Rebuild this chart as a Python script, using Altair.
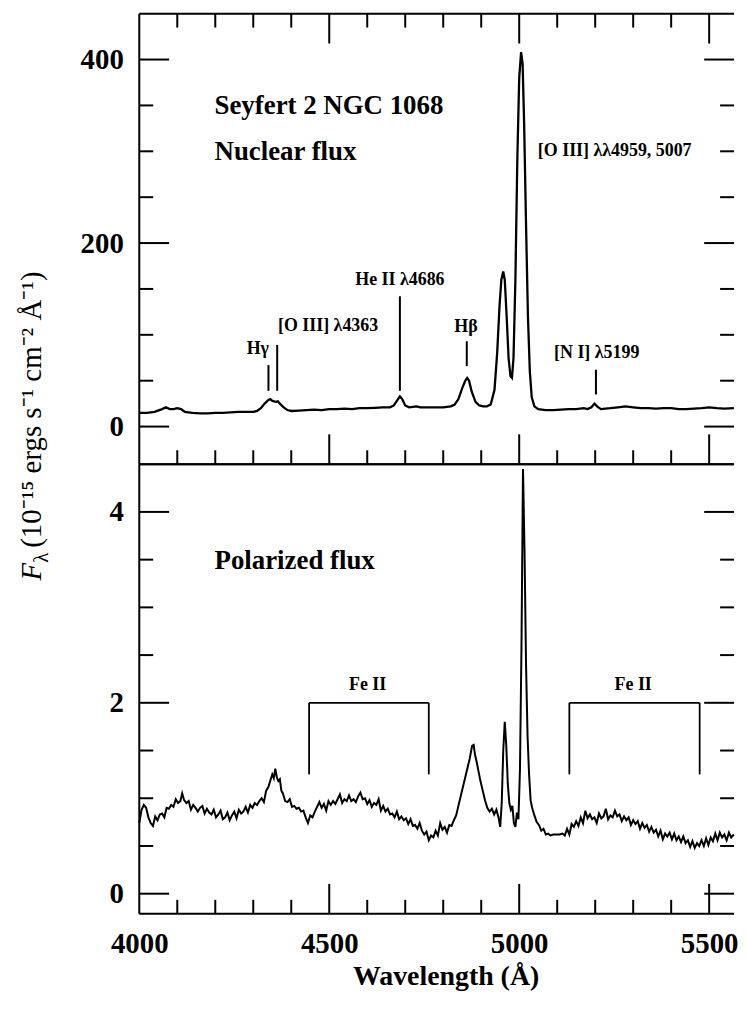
import altair as alt
import pandas as pd

# ---------------- data ----------------
nuc_wl = [4000, 4020, 4040, 4060, 4070, 4080, 4090, 4100, 4110, 4120, 4140, 4160, 4180, 4200, 4220, 4240,
          4260, 4280, 4300, 4310, 4320, 4330, 4340, 4345, 4350, 4360, 4365, 4370, 4380, 4390, 4400, 4420,
          4440, 4460, 4480, 4500, 4520, 4540, 4560, 4580, 4600, 4620, 4640, 4660, 4670, 4678, 4686, 4692,
          4700, 4710, 4720, 4730, 4740, 4760, 4780, 4800, 4820, 4830, 4840, 4850, 4858, 4863, 4868, 4875,
          4885, 4895, 4905, 4915, 4925, 4935, 4942, 4948, 4953, 4958, 4962, 4967, 4972, 4977, 4981, 4985,
          4990, 4995, 5000, 5005, 5009, 5013, 5018, 5023, 5028, 5033, 5040, 5050, 5070, 5090, 5110, 5130,
          5150, 5170, 5180, 5190, 5198, 5205, 5215, 5240, 5260, 5280, 5300, 5320, 5340, 5360, 5380, 5400,
          5420, 5440, 5460, 5480, 5500, 5520, 5540, 5565]
nuc_flux = [15, 15, 16, 19, 21, 19, 19, 20, 19, 16, 15, 14.5, 14.5, 15, 15, 15.5,
            16, 16, 16, 17, 20, 25, 29, 30, 28, 27, 27.5, 25, 21, 18, 17, 17.5,
            18, 18.5, 18, 19, 19, 19.5, 19, 20, 20, 20.5, 21, 21, 23, 28, 33, 30,
            23, 21, 21.5, 22, 21, 21, 21, 21, 22, 24, 30, 42, 50, 53, 50, 38,
            27, 23, 22, 22, 24, 40, 80, 130, 160, 169, 160, 120, 75, 55, 53, 75,
            160, 290, 380, 408, 395, 330, 220, 120, 60, 32, 22, 19, 18, 18, 18.5, 19,
            19, 20, 19, 21, 25, 22, 19, 20, 21, 22, 21, 20, 20, 19.5, 20, 20,
            19, 19, 19.5, 20, 21, 20, 19.5, 20]

pol_wl = [4000, 4006, 4012, 4018, 4024, 4030, 4036, 4042, 4048, 4054, 4060, 4066, 4072, 4078, 4084, 4090,
          4096, 4102, 4108, 4113, 4118, 4124, 4130, 4136, 4142, 4148, 4154, 4160, 4166, 4172, 4178, 4184,
          4190, 4196, 4202, 4208, 4214, 4220, 4226, 4232, 4238, 4244, 4250, 4256, 4262, 4268, 4274, 4280,
          4286, 4292, 4298, 4304, 4310, 4316, 4322, 4328, 4334, 4340, 4346, 4350, 4354, 4358, 4362, 4366,
          4370, 4374, 4378, 4384, 4390, 4396, 4402, 4408, 4414, 4420, 4426, 4432, 4438, 4444, 4450, 4456,
          4462, 4468, 4474, 4480, 4486, 4492, 4498, 4504, 4510, 4516, 4522, 4528, 4534, 4540, 4546, 4552,
          4558, 4564, 4570, 4576, 4582, 4588, 4594, 4600, 4606, 4612, 4618, 4624, 4630, 4636, 4642, 4648,
          4654, 4660, 4666, 4672, 4678, 4684, 4690, 4696, 4702, 4708, 4714, 4720, 4726, 4732, 4738, 4744,
          4750, 4756, 4762, 4768, 4774, 4780, 4786, 4792, 4798, 4804, 4810, 4816, 4822, 4828, 4834, 4840,
          4846, 4852, 4858, 4864, 4870, 4876, 4880, 4884, 4888, 4892, 4898, 4904, 4910, 4916, 4922, 4928,
          4934, 4940, 4946, 4950, 4954, 4958, 4962, 4966, 4970, 4974, 4978, 4982, 4986, 4990, 4994, 4998,
          5002, 5006, 5010, 5014, 5018, 5022, 5026, 5030, 5034, 5040, 5046, 5052, 5058, 5064, 5070, 5076,
          5082, 5090, 5098, 5106, 5114, 5120, 5126, 5132, 5138, 5144, 5150, 5156, 5162, 5168, 5174, 5180,
          5186, 5192, 5198, 5204, 5210, 5216, 5222, 5228, 5234, 5240, 5246, 5252, 5258, 5264, 5270, 5276,
          5282, 5288, 5294, 5300, 5306, 5312, 5318, 5324, 5330, 5336, 5342, 5348, 5354, 5360, 5366, 5372,
          5378, 5384, 5390, 5396, 5402, 5408, 5414, 5420, 5426, 5432, 5438, 5444, 5450, 5456, 5462, 5468,
          5474, 5480, 5486, 5492, 5498, 5504, 5510, 5516, 5522, 5528, 5534, 5540, 5546, 5552, 5558, 5565]
pol_flux = [0.74, 0.88, 0.93, 0.90, 0.80, 0.74, 0.71, 0.81, 0.77, 0.83, 0.84, 0.80, 0.90, 0.89, 0.93, 0.91,
            0.99, 0.95, 0.97, 1.05, 0.98, 0.95, 0.97, 0.88, 0.93, 0.90, 0.86, 0.90, 0.92, 0.84, 0.89, 0.85,
            0.83, 0.88, 0.80, 0.83, 0.87, 0.78, 0.80, 0.85, 0.77, 0.82, 0.86, 0.79, 0.88, 0.84, 0.86, 0.91,
            0.85, 0.93, 0.90, 0.95, 0.93, 0.97, 1.00, 0.96, 1.08, 1.12, 1.20, 1.25, 1.21, 1.31, 1.22, 1.18,
            1.20, 1.08, 1.05, 0.97, 0.96, 0.99, 0.91, 0.92, 0.89, 0.90, 0.86, 0.87, 0.80, 0.74, 0.82, 0.80,
            0.86, 0.91, 0.96, 0.90, 0.94, 0.87, 0.97, 0.93, 0.97, 0.94, 0.99, 1.04, 0.95, 0.99, 0.97, 1.03,
            0.97, 0.99, 0.96, 1.02, 1.06, 0.99, 1.00, 0.94, 0.98, 0.91, 0.95, 0.93, 0.99, 0.87, 0.92, 0.86,
            0.89, 0.83, 0.84, 0.80, 0.86, 0.78, 0.81, 0.77, 0.79, 0.73, 0.78, 0.71, 0.72, 0.68, 0.74, 0.66,
            0.62, 0.65, 0.56, 0.61, 0.59, 0.66, 0.61, 0.74, 0.67, 0.70, 0.64, 0.72, 0.71, 0.77, 0.82, 0.92,
            1.02, 1.12, 1.22, 1.32, 1.42, 1.55, 1.56, 1.45, 1.38, 1.30, 1.18, 1.08, 0.98, 0.90, 0.86, 0.89,
            0.83, 0.88, 0.79, 0.70, 0.95, 1.50, 1.80, 1.55, 1.15, 0.95, 0.88, 0.92, 0.74, 0.70, 0.85, 0.78,
            1.30, 2.60, 4.45, 3.60, 2.40, 1.65, 1.25, 0.98, 0.90, 0.82, 0.75, 0.72, 0.66, 0.68, 0.62, 0.63,
            0.61, 0.62, 0.62, 0.62, 0.63, 0.61, 0.68, 0.62, 0.73, 0.70, 0.76, 0.71, 0.80, 0.74, 0.87, 0.79,
            0.83, 0.78, 0.80, 0.74, 0.84, 0.79, 0.81, 0.89, 0.78, 0.82, 0.80, 0.87, 0.81, 0.83, 0.76, 0.81,
            0.77, 0.80, 0.72, 0.77, 0.73, 0.76, 0.68, 0.74, 0.69, 0.72, 0.65, 0.70, 0.64, 0.67, 0.60, 0.66,
            0.57, 0.63, 0.60, 0.64, 0.57, 0.63, 0.56, 0.60, 0.54, 0.60, 0.53, 0.56, 0.49, 0.55, 0.48, 0.53,
            0.50, 0.56, 0.50, 0.58, 0.51, 0.59, 0.55, 0.63, 0.56, 0.64, 0.59, 0.62, 0.56, 0.64, 0.59, 0.62]

# annotations (top panel)
big_top_text = ["Seyfert 2 NGC 1068", "Nuclear flux"]
big_top_x = [4198, 4198]
big_top_y = [349, 299]
line_labels = ["[O III] λλ4959, 5007", "He II λ4686", "[O III] λ4363", "Hγ", "Hβ", "[N I] λ5199"]
line_label_x = [5049, 4686, 4365, 4312, 4860, 5204]
line_label_y = [300, 160, 110, 84, 109, 80]
line_label_align = ["left", "center", "left", "center", "center", "center"]
marker_x = [4340, 4363, 4686, 4862, 5202]
marker_lo = [39, 39, 39, 66, 35]
marker_hi = [67, 89, 142, 93, 62]

# annotations (bottom panel)
big_bot_text = ["Polarized flux"]
big_bot_x = [4198]
big_bot_y = [3.49]
fe_text = ["Fe II", "Fe II"]
fe_x = [4601, 5300]
fe_y = [2.19, 2.19]
bracket_x1 = [4447, 4762, 4447, 5132, 5475, 5132]
bracket_x2 = [4447, 4762, 4762, 5132, 5475, 5475]
bracket_y1 = [1.25, 1.25, 2.0, 1.25, 1.25, 2.0]
bracket_y2 = [2.0, 2.0, 2.0, 2.0, 2.0, 2.0]

x_major = [4500, 5000, 5500]
x_minor = [4100, 4200, 4300, 4400, 4600, 4700, 4800, 4900, 5100, 5200, 5300, 5400]
x_labels = [4000, 4500, 5000, 5500]
top_y_major = [0, 200, 400]
top_y_minor = [50, 100, 150, 250, 300, 350]
bot_y_major = [0, 2, 4]
bot_y_minor = [0.5, 1, 1.5, 2.5, 3, 3.5]

# ---------------- layout constants ----------------
W = 598
H1 = 453
H2 = 452
XDOM = [4000, 4000 + W / 0.382]
TOPDOM = [-41, 450]
BOTDOM = [-0.21, 4.5]
FONT = "Liberation Serif"
MAJ = 30
MIN = 14
LW = 2

xs = alt.Scale(domain=XDOM, nice=False, zero=False)
top_ys = alt.Scale(domain=TOPDOM, nice=False, zero=False)
bot_ys = alt.Scale(domain=BOTDOM, nice=False, zero=False)

AX_TOP_Y = alt.Axis(values=top_y_major, ticks=False, domain=False, grid=False,
                    labelFont=FONT, labelFontWeight="bold", labelFontSize=29,
                    labelColor="black", labelPadding=16, title=None)
AX_BOT_Y = alt.Axis(values=bot_y_major, ticks=False, domain=False, grid=False,
                    labelFont=FONT, labelFontWeight="bold", labelFontSize=29,
                    labelColor="black", labelPadding=16, title=None)
AX_BOT_X = alt.Axis(values=x_labels, format="d", ticks=False, domain=False, grid=False,
                    labelFlush=False, labelOverlap=False,
                    labelFont=FONT, labelFontWeight="bold", labelFontSize=29,
                    labelColor="black", labelPadding=16,
                    title="Wavelength (Å)", titleFont=FONT, titleFontWeight="bold",
                    titleFontSize=28, titleColor="black", titlePadding=4, titleX=308)


def tick_layers(ys, yax, xax, y_major, y_minor, H, top_ticks):
    layers = []
    one = pd.DataFrame({"d": [0]})
    layers.append(alt.Chart(one).mark_rule(color="black", strokeWidth=LW).encode(
        x=alt.value(0), y=alt.value(0), y2=alt.value(H)))
    layers.append(alt.Chart(one).mark_rule(color="black", strokeWidth=LW).encode(
        x=alt.value(0), x2=alt.value(W), y=alt.value(0)))
    layers.append(alt.Chart(one).mark_rule(color="black", strokeWidth=LW).encode(
        x=alt.value(0), x2=alt.value(W), y=alt.value(H)))
    for vals, ln in ((y_major, MAJ), (y_minor, MIN)):
        d = pd.DataFrame({"y": vals})
        yenc = alt.Y("y:Q", scale=ys, axis=yax)
        layers.append(alt.Chart(d).mark_rule(color="black", strokeWidth=LW).encode(
            y=yenc, x=alt.value(0), x2=alt.value(ln)))
        layers.append(alt.Chart(d).mark_rule(color="black", strokeWidth=LW).encode(
            y=yenc, x=alt.value(W), x2=alt.value(W - ln)))
    for vals, ln in ((x_major, MAJ), (x_minor, MIN)):
        d = pd.DataFrame({"x": vals})
        xenc = alt.X("x:Q", scale=xs, axis=xax)
        layers.append(alt.Chart(d).mark_rule(color="black", strokeWidth=LW).encode(
            x=xenc, y=alt.value(H), y2=alt.value(H - ln)))
        if top_ticks:
            layers.append(alt.Chart(d).mark_rule(color="black", strokeWidth=LW).encode(
                x=xenc, y=alt.value(0), y2=alt.value(ln)))
    return layers


# ---------------- top panel ----------------
nuc = pd.DataFrame({"x": nuc_wl, "y": nuc_flux})
top_line = alt.Chart(nuc).mark_line(color="black", strokeWidth=2.3).encode(
    x=alt.X("x:Q", scale=xs, axis=None),
    y=alt.Y("y:Q", scale=top_ys, axis=AX_TOP_Y),
)

big_top = pd.DataFrame({"t": big_top_text, "x": big_top_x, "y": big_top_y})
top_big_text = alt.Chart(big_top).mark_text(
    font=FONT, fontWeight="bold", fontSize=27, align="left", baseline="middle", color="black"
).encode(x=alt.X("x:Q", scale=xs, axis=None), y=alt.Y("y:Q", scale=top_ys, axis=AX_TOP_Y), text="t:N")

lab_layers = []
for al in ("left", "center"):
    idx = [i for i, a in enumerate(line_label_align) if a == al]
    d = pd.DataFrame({"t": [line_labels[i] for i in idx],
                      "x": [line_label_x[i] for i in idx],
                      "y": [line_label_y[i] for i in idx]})
    lab_layers.append(alt.Chart(d).mark_text(
        font=FONT, fontWeight="bold", fontSize=18, align=al, baseline="middle", color="black"
    ).encode(x=alt.X("x:Q", scale=xs, axis=None), y=alt.Y("y:Q", scale=top_ys, axis=AX_TOP_Y),
             text="t:N"))

mk = pd.DataFrame({"x": marker_x, "y": marker_lo, "y2": marker_hi})
markers = alt.Chart(mk).mark_rule(color="black", strokeWidth=2).encode(
    x=alt.X("x:Q", scale=xs, axis=None), y=alt.Y("y:Q", scale=top_ys, axis=AX_TOP_Y), y2="y2:Q")

one = pd.DataFrame({"d": [0]})
ttl_F = alt.Chart(one).mark_text(font=FONT, fontSize=29, fontStyle="italic", angle=270,
                                 align="left", baseline="alphabetic", color="black", text="F"
                                 ).encode(x=alt.value(-99), y=alt.value(570))
ttl_l = alt.Chart(one).mark_text(font=FONT, fontSize=21, angle=270,
                                 align="left", baseline="alphabetic", color="black", text="λ"
                                 ).encode(x=alt.value(-92), y=alt.value(552))
ttl_main = alt.Chart(one).mark_text(font=FONT, fontSize=29, angle=270,
                                    align="left", baseline="alphabetic", color="black",
                                    text="(10⁻¹⁵ ergs s⁻¹ cm⁻² Å⁻¹)"
                                    ).encode(x=alt.value(-99), y=alt.value(537))

top = alt.layer(
    top_line, top_big_text, *lab_layers, markers, ttl_F, ttl_l, ttl_main,
    *tick_layers(top_ys, AX_TOP_Y, None, top_y_major, top_y_minor, H1, True)
).properties(width=W, height=H1)

# ---------------- bottom panel ----------------
pol = pd.DataFrame({"x": pol_wl, "y": pol_flux})
bot_line = alt.Chart(pol).mark_line(color="black", strokeWidth=2).encode(
    x=alt.X("x:Q", scale=xs, axis=AX_BOT_X),
    y=alt.Y("y:Q", scale=bot_ys, axis=AX_BOT_Y),
)

big_bot = pd.DataFrame({"t": big_bot_text, "x": big_bot_x, "y": big_bot_y})
bot_big_text = alt.Chart(big_bot).mark_text(
    font=FONT, fontWeight="bold", fontSize=27, align="left", baseline="middle", color="black"
).encode(x=alt.X("x:Q", scale=xs, axis=AX_BOT_X), y=alt.Y("y:Q", scale=bot_ys, axis=AX_BOT_Y),
         text="t:N")

fe = pd.DataFrame({"t": fe_text, "x": fe_x, "y": fe_y})
fe_labels = alt.Chart(fe).mark_text(
    font=FONT, fontWeight="bold", fontSize=18, align="center", baseline="middle", color="black"
).encode(x=alt.X("x:Q", scale=xs, axis=AX_BOT_X), y=alt.Y("y:Q", scale=bot_ys, axis=AX_BOT_Y),
         text="t:N")

br = pd.DataFrame({"x": bracket_x1, "x2": bracket_x2, "y": bracket_y1, "y2": bracket_y2})
brackets = alt.Chart(br).mark_rule(color="black", strokeWidth=1.8).encode(
    x=alt.X("x:Q", scale=xs, axis=AX_BOT_X), x2="x2:Q",
    y=alt.Y("y:Q", scale=bot_ys, axis=AX_BOT_Y), y2="y2:Q")

bottom = alt.layer(
    bot_line, bot_big_text, fe_labels, brackets,
    *tick_layers(bot_ys, AX_BOT_Y, AX_BOT_X, bot_y_major, bot_y_minor, H2, False)
).properties(width=W, height=H2)

chart = alt.vconcat(top, bottom, spacing=0, bounds="flush").properties(
    padding={"left": 10, "top": 2, "right": 0, "bottom": 0},
    background="white",
).configure_view(stroke=None)

chart.save("out.html", embed_options={"renderer": "svg", "actions": False})
